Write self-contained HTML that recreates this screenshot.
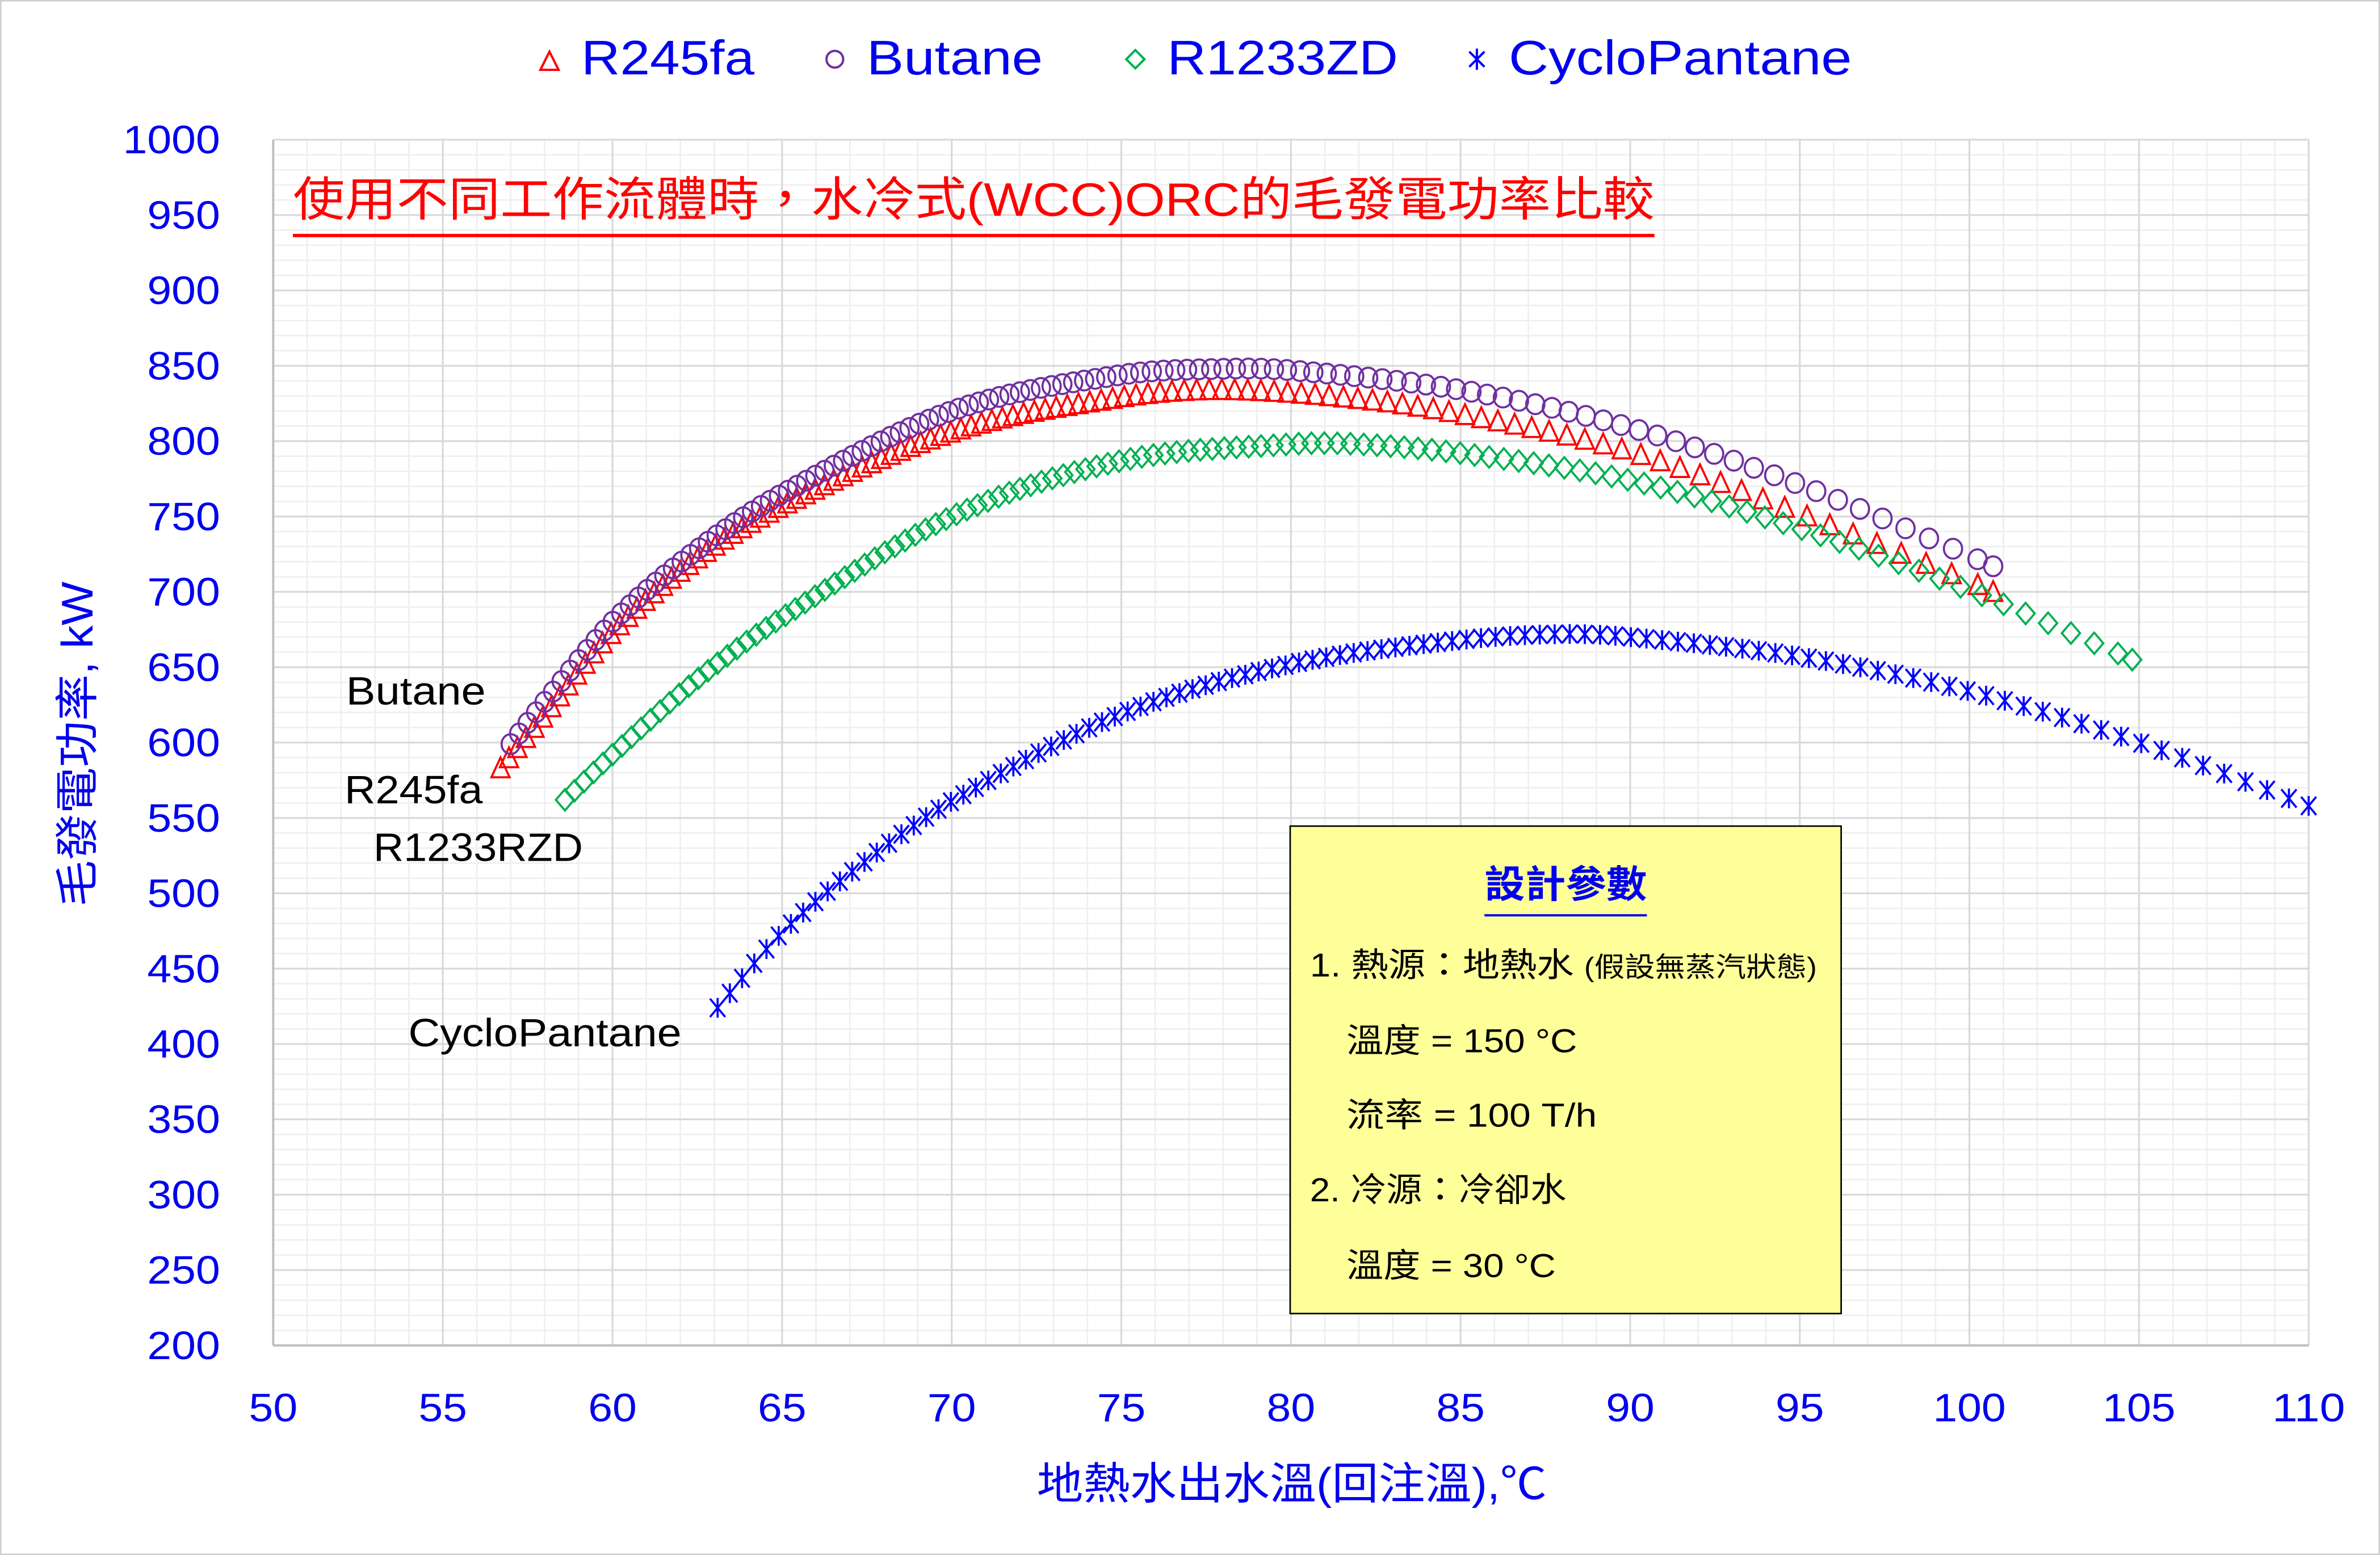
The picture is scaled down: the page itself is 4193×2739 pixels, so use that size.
<!DOCTYPE html>
<html><head><meta charset="utf-8">
<style>
html,body{margin:0;padding:0;background:#fff;}
svg{display:block;}
text{font-family:"Liberation Sans","Noto Sans CJK TC",sans-serif;}
</style></head>
<body>
<svg id="s" xmlns="http://www.w3.org/2000/svg" width="4193" height="2739" viewBox="0 0 1568 1024" preserveAspectRatio="none">
<rect x="0.5" y="0.5" width="1567" height="1023" fill="#fff" stroke="#d0d0d0" stroke-width="1"/>
<g id="grid"></g>
<g id="series"></g>
<!-- legend -->
<g font-size="32" fill="#0000ee">
<polygon points="356,46 368,46 362,34" fill="none" stroke="#ff0000" stroke-width="1.5"/>
<text x="383" y="49" textLength="114" lengthAdjust="spacingAndGlyphs">R245fa</text>
<circle cx="550" cy="39" r="5.5" fill="none" stroke="#7030a0" stroke-width="1.5"/>
<text x="571" y="49" textLength="116" lengthAdjust="spacingAndGlyphs">Butane</text>
<polygon points="748,33 754,39 748,45 742,39" fill="none" stroke="#00b050" stroke-width="1.5"/>
<text x="769" y="49" textLength="152" lengthAdjust="spacingAndGlyphs">R1233ZD</text>
<g stroke="#0000ff" stroke-width="1.5"><line x1="973" y1="32" x2="973" y2="46"/><line x1="968" y1="34" x2="978" y2="44"/><line x1="978" y1="34" x2="968" y2="44"/></g>
<text x="994" y="49" textLength="226" lengthAdjust="spacingAndGlyphs">CycloPantane</text>
</g>
<!-- title -->
<text x="193" y="142" font-size="31" fill="#ff0000" textLength="897" lengthAdjust="spacingAndGlyphs">使用不同工作流體時，水冷式(WCC)ORC的毛發電功率比較</text>
<rect x="193" y="154" width="897" height="2.2" fill="#ff0000"/>
<!-- series labels -->
<g font-size="26" fill="#000">
<text x="228" y="464" textLength="92" lengthAdjust="spacingAndGlyphs">Butane</text>
<text x="227" y="529" textLength="91" lengthAdjust="spacingAndGlyphs">R245fa</text>
<text x="246" y="567" textLength="138" lengthAdjust="spacingAndGlyphs">R1233RZD</text>
<text x="269" y="689" textLength="180" lengthAdjust="spacingAndGlyphs">CycloPantane</text>
</g>
<!-- axes titles -->
<text x="683" y="987" font-size="29" fill="#0000ee" textLength="336" lengthAdjust="spacingAndGlyphs">地熱水出水溫(回注溫),℃</text>
<text transform="translate(61,597) rotate(-90)" font-size="29" fill="#0000ee" textLength="214" lengthAdjust="spacingAndGlyphs">毛發電功率, kW</text>
<g id="ticks" font-size="26" fill="#0000ee"></g>
<!-- box -->
<rect x="850" y="544" width="363" height="321" fill="#ffff99" stroke="#000" stroke-width="1"/>
<text x="978" y="591" font-size="25" fill="#0000ee" font-weight="bold" textLength="107" lengthAdjust="spacingAndGlyphs">設計參數</text>
<rect x="978" y="602" width="107" height="1.5" fill="#0000ee"/>
<g font-size="22" fill="#000">
<text x="863" y="643" textLength="334" lengthAdjust="spacingAndGlyphs">1. 熱源：地熱水 <tspan font-size="18">(假設無蒸汽狀態)</tspan></text>
<text x="887" y="693" textLength="152" lengthAdjust="spacingAndGlyphs">溫度 = 150 °C</text>
<text x="887" y="742" textLength="165" lengthAdjust="spacingAndGlyphs">流率 = 100 T/h</text>
<text x="863" y="791" textLength="169" lengthAdjust="spacingAndGlyphs">2. 冷源：冷卻水</text>
<text x="887" y="841" textLength="138" lengthAdjust="spacingAndGlyphs">溫度 = 30 °C</text>
</g>
</svg>
<script>
(function(){
var NS="http://www.w3.org/2000/svg";
var X0=180,X1=1521,Y0=886,Y1=92;
function px(x){return X0+(x-50)/60*(X1-X0);}
function py(y){return Y0-(y-200)/800*(Y0-Y1);}
function el(p,t,a){var e=document.createElementNS(NS,t);for(var k in a)e.setAttribute(k,a[k]);p.appendChild(e);return e;}
var g=document.getElementById('grid');
for(var i=0;i<=60;i++){var x=px(50+i);if(i%5)el(g,'line',{x1:x,x2:x,y1:Y1,y2:Y0,stroke:'#efefef','stroke-width':1});}
for(var j=0;j<=80;j++){var y=py(200+j*10);if(j%5)el(g,'line',{x1:X0,x2:X1,y1:y,y2:y,stroke:'#efefef','stroke-width':1});}
for(var i=0;i<=12;i++){var x=px(50+i*5);el(g,'line',{x1:x,x2:x,y1:Y1,y2:Y0,stroke:'#d9d9d9','stroke-width':1.2});}
for(var j=0;j<=16;j++){var y=py(200+j*50);el(g,'line',{x1:X0,x2:X1,y1:y,y2:y,stroke:'#d9d9d9','stroke-width':1.2});}
el(g,'line',{x1:X0,x2:X0,y1:Y1,y2:Y0,stroke:'#bfbfbf','stroke-width':1.5});
el(g,'line',{x1:X0,x2:X1,y1:Y0,y2:Y0,stroke:'#bfbfbf','stroke-width':1.5});
var tk=document.getElementById('ticks');
for(var j=0;j<=16;j++){var v=200+j*50;var w=v>=1000?64:48;var t=el(tk,'text',{x:145-w,y:py(v)+9,textLength:w,lengthAdjust:'spacingAndGlyphs'});t.textContent=v;}
for(var i=0;i<=12;i++){var v=50+i*5;var w=v>=100?48:32;var t=el(tk,'text',{x:px(v)-w/2,y:936,textLength:w,lengthAdjust:'spacingAndGlyphs'});t.textContent=v;}
function interp(pts,x){
  for(var i=0;i<pts.length-1;i++){
    if(x<=pts[i+1][0]||i==pts.length-2){
      var p0=pts[Math.max(i-1,0)],p1=pts[i],p2=pts[i+1],p3=pts[Math.min(i+2,pts.length-1)];
      var t=(x-p1[0])/(p2[0]-p1[0]);
      var h=p2[0]-p1[0];
      var m1=(p2[1]-p0[1])/(p2[0]-p0[0])*h, m2=(p3[1]-p1[1])/(p3[0]-p1[0])*h;
      var t2=t*t,t3=t2*t;
      return (2*t3-3*t2+1)*p1[1]+(t3-2*t2+t)*m1+(-2*t3+3*t2)*p2[1]+(t3-t2)*m2;
    }
  }
}
var S=[
 {c:'#ff0000',m:'tri',s0:0.25,s1:0.8,p:[[56.7,583],[58,618],[60,673],[62.5,722],[65,757],[70,806],[75,829],[78,834],[82,828],[85,818],[90,793],[95,752],[100,707],[100.7,700]]},
 {c:'#7030a0',m:'cir',s0:0.25,s1:0.75,p:[[57.0,599],[58,627],[60,680],[62.5,728],[65,765],[70,820],[75,844],[78,848],[80,847],[85,834],[90,809],[95,771],[100,724],[100.7,717]]},
 {c:'#00b050',m:'dia',s0:0.28,s1:0.72,p:[[58.6,562],[60,592],[62.5,642],[65,683],[70,750],[75,787],[80,798],[82,798],[85,792],[90,774],[95,742],[100,701],[104.8,655]]},
 {c:'#0000ff',m:'star',s0:0.36,s1:0.66,p:[[63.1,424],[65,474],[67.5,522],[70,561],[75,619],[80,652],[85,668],[88,672],[90,670],[95,657],[100,634],[105,600],[110,558]]}
];
var sg=document.getElementById('series');
S.forEach(function(s){
  var a=s.p[0][0],b=s.p[s.p.length-1][0],x=a;
  var xs=[];
  while(x<b-0.15){xs.push(x);var t=(x-a)/(b-a);x+=s.s0+(s.s1-s.s0)*t*t;}
  xs.push(b);
  xs.forEach(function(x){
    var X=px(x),Y=py(interp(s.p,x));
    var at={fill:'none',stroke:s.c,'stroke-width':1.4};
    if(s.m=='tri'){at.points=(X-6)+','+(Y+6)+' '+(X+6)+','+(Y+6)+' '+X+','+(Y-7);el(sg,'polygon',at);}
    else if(s.m=='cir'){at.cx=X;at.cy=Y;at.rx=6;at.ry=6.5;el(sg,'ellipse',at);}
    else if(s.m=='dia'){at.points=X+','+(Y-7)+' '+(X+6)+','+Y+' '+X+','+(Y+7)+' '+(X-6)+','+Y;el(sg,'polygon',at);}
    else {var gg=el(sg,'g',{stroke:s.c,'stroke-width':1.4});
      el(gg,'line',{x1:X,x2:X,y1:Y-6.5,y2:Y+6.5});el(gg,'line',{x1:X-5,x2:X+5,y1:Y-6,y2:Y+6});el(gg,'line',{x1:X+5,x2:X-5,y1:Y-6,y2:Y+6});}
  });
});
})();
</script>
</body></html>
